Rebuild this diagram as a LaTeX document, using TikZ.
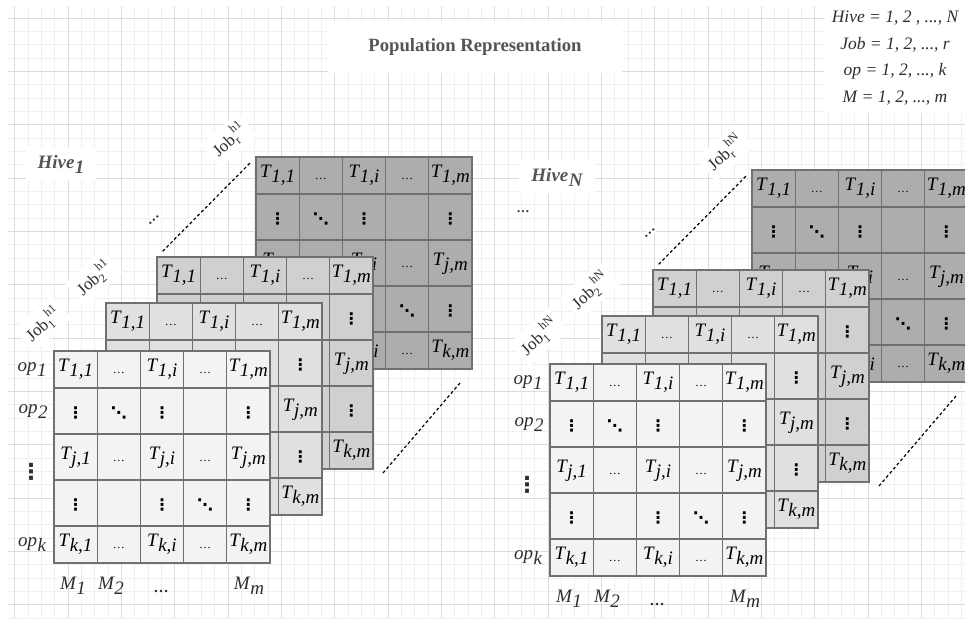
\documentclass[tikz,border=0pt]{standalone}
\usepackage{fontspec}
\setmainfont{Liberation Serif}
\newfontfamily\dotsfont{DejaVu Sans}
\usetikzlibrary{calc}

\definecolor{gridminorc}{HTML}{EFEFEF}
\definecolor{gridmajorc}{HTML}{DCDCDC}
\definecolor{cellline}{HTML}{707070}
\definecolor{layerA}{HTML}{F3F3F3}
\definecolor{layerB}{HTML}{E0E0E0}
\definecolor{layerC}{HTML}{D0D0D0}
\definecolor{layerD}{HTML}{ADADAD}
\definecolor{labelgray}{HTML}{555555}
\definecolor{labeldark}{HTML}{2E2E2E}

\newcommand{\cellfont}{\fontsize{19}{21}\selectfont\itshape}
\newcommand{\lowsub}[2]{#1\kern0.5pt\raisebox{-5pt}{#2}}
\newcommand{\jobsup}[2]{Job{\fontsize{12}{13}\selectfont\raisebox{-4pt}{#1}\kern-1pt\raisebox{8pt}{#2}}}
\newcommand{\tdots}{{\upshape\fontsize{12}{14}\selectfont\raisebox{-2pt}{…}}}
\newcommand{\vdotsc}{{\dotsfont\bfseries\upshape\fontsize{16}{18}\selectfont\raisebox{-5pt}{⋮}}}
\newcommand{\ddotsc}{{\dotsfont\bfseries\upshape\fontsize{16}{18}\selectfont\raisebox{-5pt}{⋱}}}
% content of cell (row, column) of a job matrix
\newcommand{\jobcell}[2]{\ifcase#1\or
  \ifcase#2\or\lowsub{T}{1,1}\or\tdots\or\lowsub{T}{1,i}\or\tdots\or\lowsub{T}{1,m}\fi\or
  \ifcase#2\or\vdotsc\or\ddotsc\or\vdotsc\or\or\vdotsc\fi\or
  \ifcase#2\or\lowsub{T}{j,1}\or\tdots\or\lowsub{T}{j,i}\or\tdots\or\lowsub{T}{j,m}\fi\or
  \ifcase#2\or\vdotsc\or\or\vdotsc\or\ddotsc\or\vdotsc\fi\or
  \ifcase#2\or\lowsub{T}{k,1}\or\tdots\or\lowsub{T}{k,i}\or\tdots\or\lowsub{T}{k,m}\fi
  \fi}

\begin{document}
\begin{tikzpicture}[x=1pt, y=-1pt,
    cellbox/.style={draw=cellline, line width=1.1pt},
    jobtext/.style={font=\cellfont, text height=13pt, text depth=9pt, inner sep=0pt},
    sidelabel/.style={font=\cellfont, text=labeldark, text height=13pt, text depth=9pt, inner sep=2pt},
    joblabel/.style={font=\fontsize{17}{19}\selectfont, text=labeldark, rotate=42, fill=white, inner sep=5pt},
    hivelabel/.style={font=\fontsize{19}{21}\selectfont\bfseries\itshape, text=labelgray, fill=white, inner xsep=12pt, inner ysep=8pt},
    gapdots/.style={font=\fontsize{14}{16}\selectfont\bfseries, text=labeldark, inner sep=2pt},
    jobgap/.style={line width=1.2pt, dash pattern=on 3pt off 2.5pt},
    gridminor/.style={draw=gridminorc, line width=0.7pt},
    gridmajor/.style={draw=gridmajorc, line width=0.8pt}]
  \useasboundingbox (0,0) rectangle (965,618);

  % Background grid
  \foreach \k in {0,...,71}
    \draw[gridminor] ({14.667+13.333*\k},6) -- ({14.667+13.333*\k},618);
  \foreach \k in {0,...,45}
    \draw[gridminor] (8,{18+13.333*\k}) -- (965,{18+13.333*\k});
  \foreach \k in {-1,...,16}
    \draw[gridmajor] ({68+53.333*\k},6) -- ({68+53.333*\k},618);
  \foreach \k in {0,...,11}
    \draw[gridmajor] (8,{18+53.333*\k}) -- (965,{18+53.333*\k});

  % Title and index ranges
  \node[font=\fontsize{18.7}{21}\selectfont\bfseries, text=labelgray, fill=white,
        inner xsep=40pt, inner ysep=18pt] (title) at (475,47) {Population Representation};
  \node[font=\fontsize{17.5}{26.7}\selectfont\itshape, text=labeldark, fill=white, align=center,
        inner sep=8pt] (key) at (895,58)
        {Hive = 1, 2 , ..., N\\ Job = 1, 2, ..., r\\ op = 1, 2, ..., k\\ M = 1, 2, ..., m};

  % Two hives, each a stack of job matrices (back to front);
  % only the cells that stay visible get their text
  \foreach \hx/\hy/\hn/\hs in {54/351/h1/1, 550/364/hN/N} {
    \foreach \lx/\ly/\lf/\lyr/\vis in {
        202/-194/layerD/d/{1/1,1/2,1/3,1/4,1/5,2/1,2/2,2/3,2/5,3/1,3/3,3/4,3/5,4/4,4/5,5/3,5/4,5/5},
        103/-94/layerC/c/{1/1,1/2,1/3,1/4,1/5,2/5,3/5,4/5,5/5},
        52/-48/layerB/b/{1/1,1/2,1/3,1/4,1/5,2/5,3/5,4/5,5/5},
        0/0/layerA/a/{1/1,1/2,1/3,1/4,1/5,2/1,2/2,2/3,2/5,3/1,3/2,3/3,3/4,3/5,4/1,4/3,4/4,4/5,5/1,5/2,5/3,5/4,5/5}} {
      \begin{scope}[shift={({\hx+\lx},{\hy+\ly})}]
        % cells
        \foreach \ya/\yb in {0/37, 37/83, 83/129, 129/175, 175/212}
          \foreach \cl in {0,...,4}
            \draw[cellbox, fill=\lf] ({\cl*43.2},\ya) rectangle ({(\cl+1)*43.2},\yb);
        % cell texts
        \foreach \rw/\cl in \vis {
          \pgfmathsetmacro{\ym}{{18.5,60,106,152,193.5}[\rw-1]}
          \node[jobtext] (\hn-\lyr-\rw-\cl) at ({(\cl-0.5)*43.2},\ym) {\jobcell{\rw}{\cl}};
        }
        \coordinate (\hn-\lyr-nw) at (0,0);
        \coordinate (\hn-\lyr-se) at (216,212);
      \end{scope}
    }

    % gap between third and last job
    \coordinate (\hn-gs) at ($(\hn-c-se)+(10,4)$);
    \coordinate (\hn-ge) at ($(\hn-d-se)+(-12,14)$);
    \draw[jobgap, shorten <=8pt, shorten >=8pt] (\hn-c-nw) -- (\hn-d-nw);
    \draw[jobgap] (\hn-gs) -- (\hn-ge);

    \begin{scope}[shift={(\hx,\hy)}]
      % hive and job labels
      \node[hivelabel] (\hn-name) at (7,-187) {\lowsub{Hive}{\hs}};
      \node[joblabel] (\hn-job1) at (-11,-27) {\jobsup{1}{h\hs}};
      \node[joblabel] (\hn-job2) at (40,-73) {\jobsup{2}{h\hs}};
      \node[joblabel] (\hn-jobr) at (175,-211) {\jobsup{r}{h\hs}};
      \node[gapdots, rotate=42, fill=white] (\hn-gap) at (100,-131) {…};
      % operations
      \node[sidelabel] (\hn-op1) at (-22,18.5) {\lowsub{op}{1}};
      \node[sidelabel] (\hn-op2) at (-21,60) {\lowsub{op}{2}};
      \node[font=\dotsfont\bfseries\fontsize{22}{24}\selectfont, text=labeldark, inner sep=0pt]
        (\hn-opdots) at (-23,121) {⋮};
      \node[sidelabel] (\hn-opk) at (-22,193.5) {\lowsub{op}{k}};
      % machines
      \node[sidelabel] (\hn-m1) at (19,236) {\lowsub{M}{1}};
      \node[sidelabel] (\hn-m2) at (57,236) {\lowsub{M}{2}};
      \node[gapdots, font=\fontsize{15}{17}\selectfont\bfseries] (\hn-mdots) at (107,240) {…};
      \node[sidelabel] (\hn-mm) at (195,236) {\lowsub{M}{m}};
    \end{scope}
  }
  \node[gapdots, font=\fontsize{13}{15}\selectfont\bfseries] (hN-more) at (523,212) {…};
\end{tikzpicture}
\end{document}
